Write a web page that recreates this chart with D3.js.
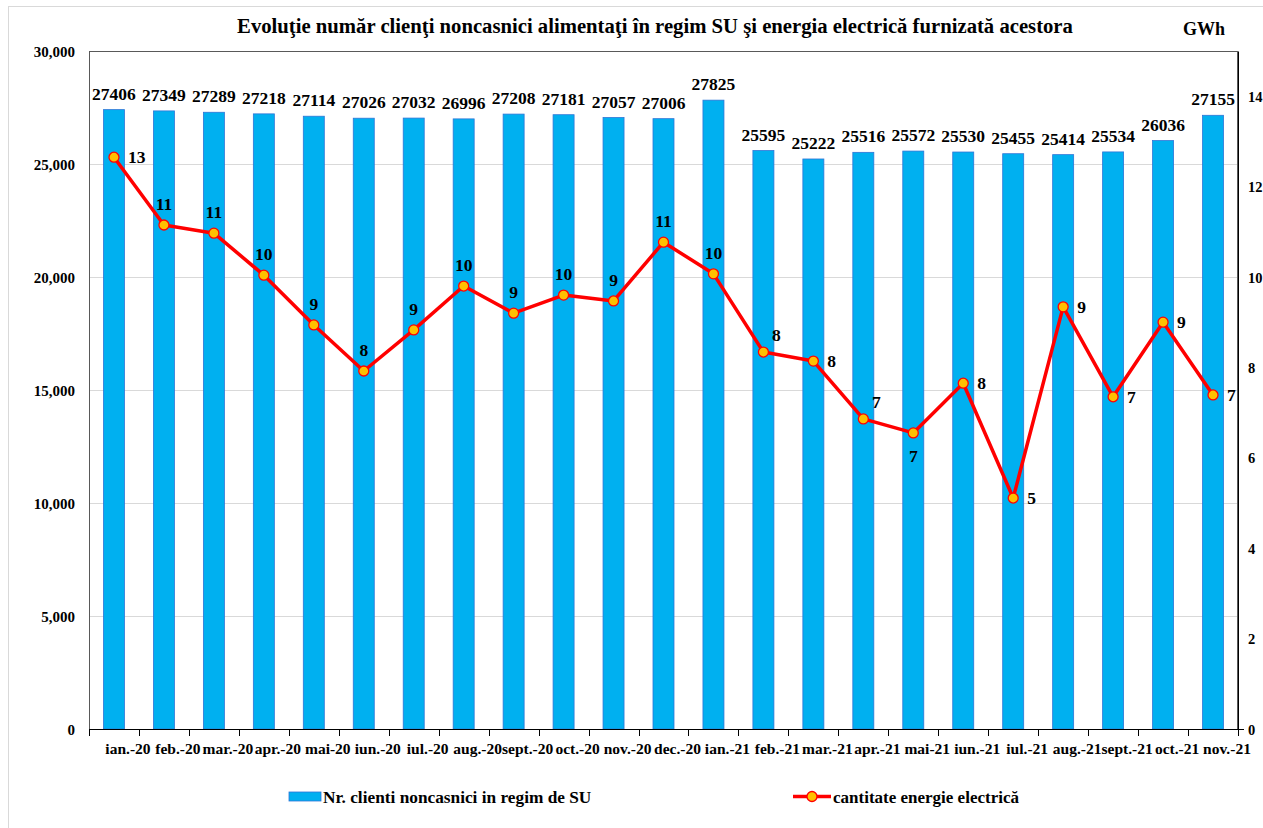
<!DOCTYPE html>
<html><head><meta charset="utf-8">
<script src="https://cdn.jsdelivr.net/npm/d3@7"></script>
<style>
html,body{margin:0;padding:0;background:#fff;}
svg text{font-family:"Liberation Serif","Times New Roman",serif;font-weight:bold;fill:#000;}
</style></head>
<body><svg id="c" width="1263" height="828"></svg>
<script>
const categories = ["ian.-20","feb.-20","mar.-20","apr.-20","mai-20","iun.-20","iul.-20","aug.-20","sept.-20","oct.-20","nov.-20","dec.-20","ian.-21","feb.-21","mar.-21","apr.-21","mai-21","iun.-21","iul.-21","aug.-21","sept.-21","oct.-21","nov.-21"];
const clients = [27406,27349,27289,27218,27114,27026,27032,26996,27208,27181,27057,27006,27825,25595,25222,25516,25572,25530,25455,25414,25534,26036,27155];
const energy = [12.65,11.15,10.97,10.04,8.94,7.92,8.83,9.80,9.20,9.60,9.47,10.77,10.07,8.34,8.14,6.86,6.55,7.65,5.11,9.34,7.35,9.00,7.39];
const leftTicks = [0,5000,10000,15000,20000,25000,30000];
const rightTicks = [0,2,4,6,8,10,12,14];
const title = "Evoluţie număr clienţi noncasnici alimentaţi în regim SU şi energia electrică furnizată acestora";
const seriesNames = ["Nr. clienti noncasnici in regim de SU","cantitate energie electrică"];
const rightUnit = "GWh";

const svg = d3.select("#c");
const L = 89, R = 1238, T = 51, B = 729;

// outer chart border
svg.append("rect").attr("x",8.5).attr("y",6.5).attr("width",1300).attr("height",900)
  .attr("fill","none").attr("stroke","#d9d9d9").attr("stroke-width",1);

const x = d3.scaleBand().domain(categories).range([L,R]).paddingInner(0).paddingOuter(0);
const yL = d3.scaleLinear().domain([0,30000]).range([B,T]);
const yR = d3.scaleLinear().domain([0,15]).range([B,T]);

// gridlines
svg.append("g").selectAll("line").data(leftTicks.filter(d=>d>0 && d<30000)).join("line")
  .attr("x1",L).attr("x2",R).attr("y1",d=>Math.round(yL(d))+0.5).attr("y2",d=>Math.round(yL(d))+0.5)
  .attr("stroke","#d9d9d9").attr("stroke-width",1);

// plot border
svg.append("rect").attr("x",L+0.5).attr("y",T+0.5).attr("width",R-L-1).attr("height",B-T)
  .attr("fill","none").attr("stroke","#595959").attr("stroke-width",1);

// bars
const bw = 21;
svg.append("g").selectAll("rect").data(clients).join("rect")
  .attr("x",(d,i)=>x(categories[i])+x.bandwidth()/2-bw/2)
  .attr("y",d=>yL(d))
  .attr("width",bw).attr("height",d=>B-yL(d))
  .attr("fill","#00b0f0").attr("stroke","#2e75d6").attr("stroke-width",0.8);

// bar labels
svg.append("g").selectAll("text").data(clients).join("text")
  .attr("x",(d,i)=>x(categories[i])+x.bandwidth()/2)
  .attr("y",d=>yL(d)-10)
  .attr("text-anchor","middle").attr("font-size",17.5).text(d=>d);

// left axis
const axL = d3.axisLeft(yL).tickValues(leftTicks).tickSize(0).tickPadding(14).tickFormat(d3.format(","));
const gL = svg.append("g").attr("transform",`translate(${L},0)`).call(axL);
gL.select(".domain").attr("stroke","#595959");
gL.selectAll("text").attr("font-size",15).attr("font-family","Liberation Serif").attr("font-weight","bold").attr("dy","0.35em");

// right axis
const axR = d3.axisRight(yR).tickValues(rightTicks).tickSize(0).tickPadding(10).tickFormat(d3.format("d"));
const gR = svg.append("g").attr("transform",`translate(${R},0)`).call(axR);
gR.select(".domain").attr("stroke","#000");
gR.selectAll("text").attr("font-size",14.5).attr("font-family","Liberation Serif").attr("font-weight","bold").attr("dy","0.35em");

// bottom axis
const axB = d3.axisBottom(x).tickSize(0).tickFormat("");
const gB = svg.append("g").attr("transform",`translate(0,${B})`).call(axB);
gB.select(".domain").attr("stroke","#000");
const bounds = d3.range(categories.length+1).map(i=>L+i*x.bandwidth());
svg.append("g").selectAll("line").data(bounds).join("line")
  .attr("x1",d=>Math.round(d)+0.5).attr("x2",d=>Math.round(d)+0.5).attr("y1",B).attr("y2",B+7)
  .attr("stroke","#000");
svg.append("line").attr("x1",R).attr("x2",R+6).attr("y1",B+0.5).attr("y2",B+0.5).attr("stroke","#000");
svg.append("g").selectAll("text").data(categories).join("text")
  .attr("x",d=>x(d)+x.bandwidth()/2+14).attr("y",754)
  .attr("text-anchor","middle").attr("font-size",15.5).text(d=>d);

// line
const cx = i => x(categories[i])+x.bandwidth()/2;
const line = d3.line().x((d,i)=>cx(i)).y(d=>yR(d));
svg.append("path").datum(energy).attr("d",line).attr("fill","none")
  .attr("stroke","#ff0000").attr("stroke-width",3.5).attr("stroke-linejoin","round");
svg.append("g").selectAll("circle").data(energy).join("circle")
  .attr("cx",(d,i)=>cx(i)).attr("cy",d=>yR(d)).attr("r",5)
  .attr("fill","#ffc000").attr("stroke","#ff0000").attr("stroke-width",1.3);

// line labels placement
const place = i => {
  if (i===0) return "right";
  if (i>=1 && i<=12) return "above";
  if (i===13 || i===15) return "aboveright";
  if (i===16) return "below";
  return "right";
};
const offs = {right:[14,6,"start"], above:[0,-15,"middle"], aboveright:[13,-11,"middle"], below:[0,29,"middle"]};
svg.append("g").selectAll("text").data(energy).join("text")
  .attr("x",(d,i)=>cx(i)+offs[place(i)][0])
  .attr("y",(d,i)=>yR(d)+offs[place(i)][1])
  .attr("text-anchor",(d,i)=>offs[place(i)][2])
  .attr("font-size",17.5).text(d=>Math.round(d));

// title
svg.append("text").attr("x",655).attr("y",33).attr("text-anchor","middle").attr("font-size",20.7).text(title);
svg.append("text").attr("x",1183).attr("y",35).attr("font-size",18).text(rightUnit);

// legend
const lg = svg.append("g");
lg.append("rect").attr("x",289).attr("y",792).attr("width",32).attr("height",9)
  .attr("fill","#00b0f0").attr("stroke","#2e75d6").attr("stroke-width",0.8);
lg.append("text").attr("x",323).attr("y",803).attr("font-size",17.3).text(seriesNames[0]);
lg.append("line").attr("x1",793).attr("x2",831).attr("y1",796.5).attr("y2",796.5).attr("stroke","#ff0000").attr("stroke-width",3.5);
lg.append("circle").attr("cx",812).attr("cy",796.5).attr("r",5).attr("fill","#ffc000").attr("stroke","#ff0000").attr("stroke-width",1.3);
lg.append("text").attr("x",833).attr("y",803).attr("font-size",17).text(seriesNames[1]);
</script></body></html>
